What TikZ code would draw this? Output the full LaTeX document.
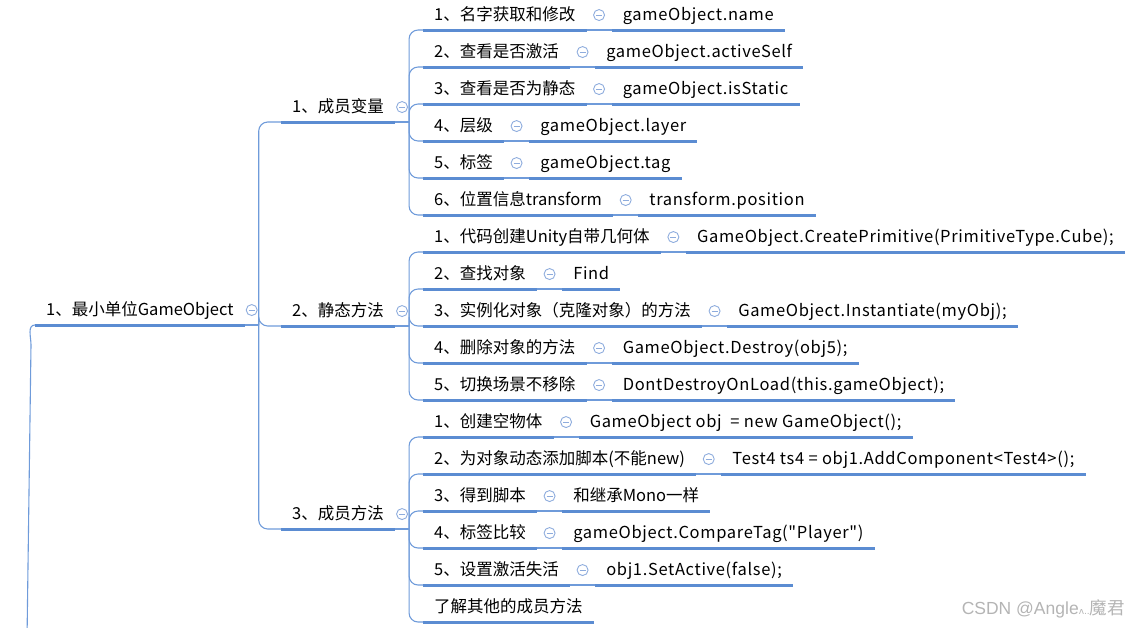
\documentclass[tikz,border=0pt]{standalone}
\usepackage{fontspec}
\setmainfont{Noto Sans CJK SC}
\newfontfamily\codefont{Noto Sans CJK SC}[LetterSpace=4]
\newfontfamily\wmfont{Liberation Sans}
\newfontfamily\ipafont{DejaVu Sans}
\usepackage{tikz}
\usetikzlibrary{positioning}
\definecolor{mapblue}{HTML}{5B8CD2}
\definecolor{linkblue}{HTML}{6F9BDA}
\definecolor{iconblue}{HTML}{8EACDD}
\definecolor{markgray}{HTML}{B4B4B4}

\begin{document}
\begin{tikzpicture}[
  x=1pt, y=-1pt,
  node distance=25pt,
  topic/.style={font=\fontsize{16.5}{20}\selectfont, inner xsep=11pt, inner ysep=5pt,
                text height=13pt, text depth=4pt, anchor=south west},
  codebox/.style={topic, font=\codefont\fontsize{16.5}{20}\selectfont},
  uline/.style={draw=mapblue, line width=3pt},
  link/.style={draw=linkblue, line width=1.1pt},
  icon/.style={circle, draw=iconblue, line width=0.9pt, minimum size=11pt, inner sep=0pt,
               path picture={\draw[iconblue, line width=0.9pt]
                 ([xshift=-3pt]path picture bounding box.center) --
                 ([xshift=3pt]path picture bounding box.center);}}
]
  \useasboundingbox (0,0) rectangle (1142,627);

  % root and first level
  \node[topic] (root) at (35,325) {1、最小单位GameObject};
  \node[topic] (var)  at (281,122) {1、成员变量};
  \node[topic] (stat) at (281,326) {2、静态方法};
  \node[topic] (meth) at (281,529) {3、成员方法};

  % member variables
  \node[topic] (var1) at (423,30)  {1、名字获取和修改};
  \node[topic] (var2) at (423,67)  {2、查看是否激活};
  \node[topic] (var3) at (423,104) {3、查看是否为静态};
  \node[topic] (var4) at (423,141) {4、层级};
  \node[topic] (var5) at (423,178) {5、标签};
  \node[topic] (var6) at (423,215) {6、位置信息transform};
  \node[codebox, right=of var1] (varc1) {gameObject.name};
  \node[codebox, right=of var2] (varc2) {gameObject.activeSelf};
  \node[codebox, right=of var3] (varc3) {gameObject.isStatic};
  \node[codebox, right=of var4] (varc4) {gameObject.layer};
  \node[codebox, right=of var5] (varc5) {gameObject.tag};
  \node[codebox, right=of var6] (varc6) {transform.position};

  % static methods
  \node[topic] (stat1) at (423,252) {1、代码创建Unity自带几何体};
  \node[topic] (stat2) at (423,289) {2、查找对象};
  \node[topic] (stat3) at (423,326) {3、实例化对象（克隆对象）的方法};
  \node[topic] (stat4) at (423,363) {4、删除对象的方法};
  \node[topic] (stat5) at (423,400) {5、切换场景不移除};
  \node[codebox, right=of stat1] (statc1) {GameObject.CreatePrimitive(PrimitiveType.Cube);};
  \node[codebox, right=of stat2] (statc2) {Find};
  \node[codebox, right=of stat3] (statc3) {GameObject.Instantiate(myObj);};
  \node[codebox, right=of stat4] (statc4) {GameObject.Destroy(obj5);};
  \node[codebox, right=of stat5] (statc5) {DontDestroyOnLoad(this.gameObject);};

  % member methods
  \node[topic] (meth1) at (423,437) {1、创建空物体};
  \node[topic] (meth2) at (423,474) {2、为对象动态添加脚本(不能new)};
  \node[topic] (meth3) at (423,511) {3、得到脚本};
  \node[topic] (meth4) at (423,548) {4、标签比较};
  \node[topic] (meth5) at (423,585) {5、设置激活失活};
  \node[topic] (meth6) at (423,622) {了解其他的成员方法};
  \node[codebox, right=of meth1] (methc1) {GameObject obj \ = new GameObject();};
  \node[codebox, right=of meth2] (methc2) {Test4 ts4 = obj1.AddComponent<Test4>();};
  \node[topic, right=of meth3] (methc3) {和继承Mono一样};
  \node[codebox, right=of meth4] (methc4) {gameObject.CompareTag(\symbol{34}Player\symbol{34})};
  \node[codebox, right=of meth5] (methc5) {obj1.SetActive(false);};

  % branches
  \coordinate (rootin) at (27,640);
  \draw[link] (rootin) -- (31,345) to[out=90, in=180] (root.south west);
  \draw[link] (root.south east) -- node[icon, above=9pt]{} ++(14,0) coordinate (rootj);
  \foreach \c in {var,stat,meth}
    \draw[link, rounded corners=9pt] (rootj) |- (\c.south west);
  \draw[link] (var.south east) -- node[icon, above=9pt]{} ++(14,0) coordinate (varj);
  \foreach \c in {var1,var2,var3,var4,var5,var6}
    \draw[link, rounded corners=9pt] (varj) |- (\c.south west);
  \draw[link] (stat.south east) -- node[icon, above=9pt]{} ++(14,0) coordinate (statj);
  \foreach \c in {stat1,stat2,stat3,stat4,stat5}
    \draw[link, rounded corners=9pt] (statj) |- (\c.south west);
  \draw[link] (meth.south east) -- node[icon, above=9pt]{} ++(14,0) coordinate (methj);
  \foreach \c in {meth1,meth2,meth3,meth4,meth5,meth6}
    \draw[link, rounded corners=9pt] (methj) |- (\c.south west);

  % leaf links
  \foreach \a/\b in {var1/varc1,var2/varc2,var3/varc3,var4/varc4,var5/varc5,var6/varc6,
                     stat1/statc1,stat2/statc2,stat3/statc3,stat4/statc4,stat5/statc5,
                     meth1/methc1,meth2/methc2,meth3/methc3,meth4/methc4,meth5/methc5}
    \draw[link] (\a.south east) -- node[icon, above=9pt]{} (\b.south west);

  % underlines
  \foreach \n in {root,var,stat,meth,var1,var2,var3,var4,var5,var6,
                  varc1,varc2,varc3,varc4,varc5,varc6,stat1,stat2,stat3,stat4,stat5,
                  statc1,statc2,statc3,statc4,statc5,meth1,meth2,meth3,meth4,meth5,meth6,
                  methc1,methc2,methc3,methc4,methc5}
    \draw[uline] (\n.south west) -- (\n.south east);

  % watermark
  \node[font=\wmfont\fontsize{17.5}{20}\selectfont, text=markgray, anchor=base east, inner sep=0pt]
    (mark) at (1125,614) {CSDN @Angle{\ipafont\fontsize{9}{10}\selectfont ʌ..}{\rmfamily 魔君}};
\end{tikzpicture}
\end{document}
